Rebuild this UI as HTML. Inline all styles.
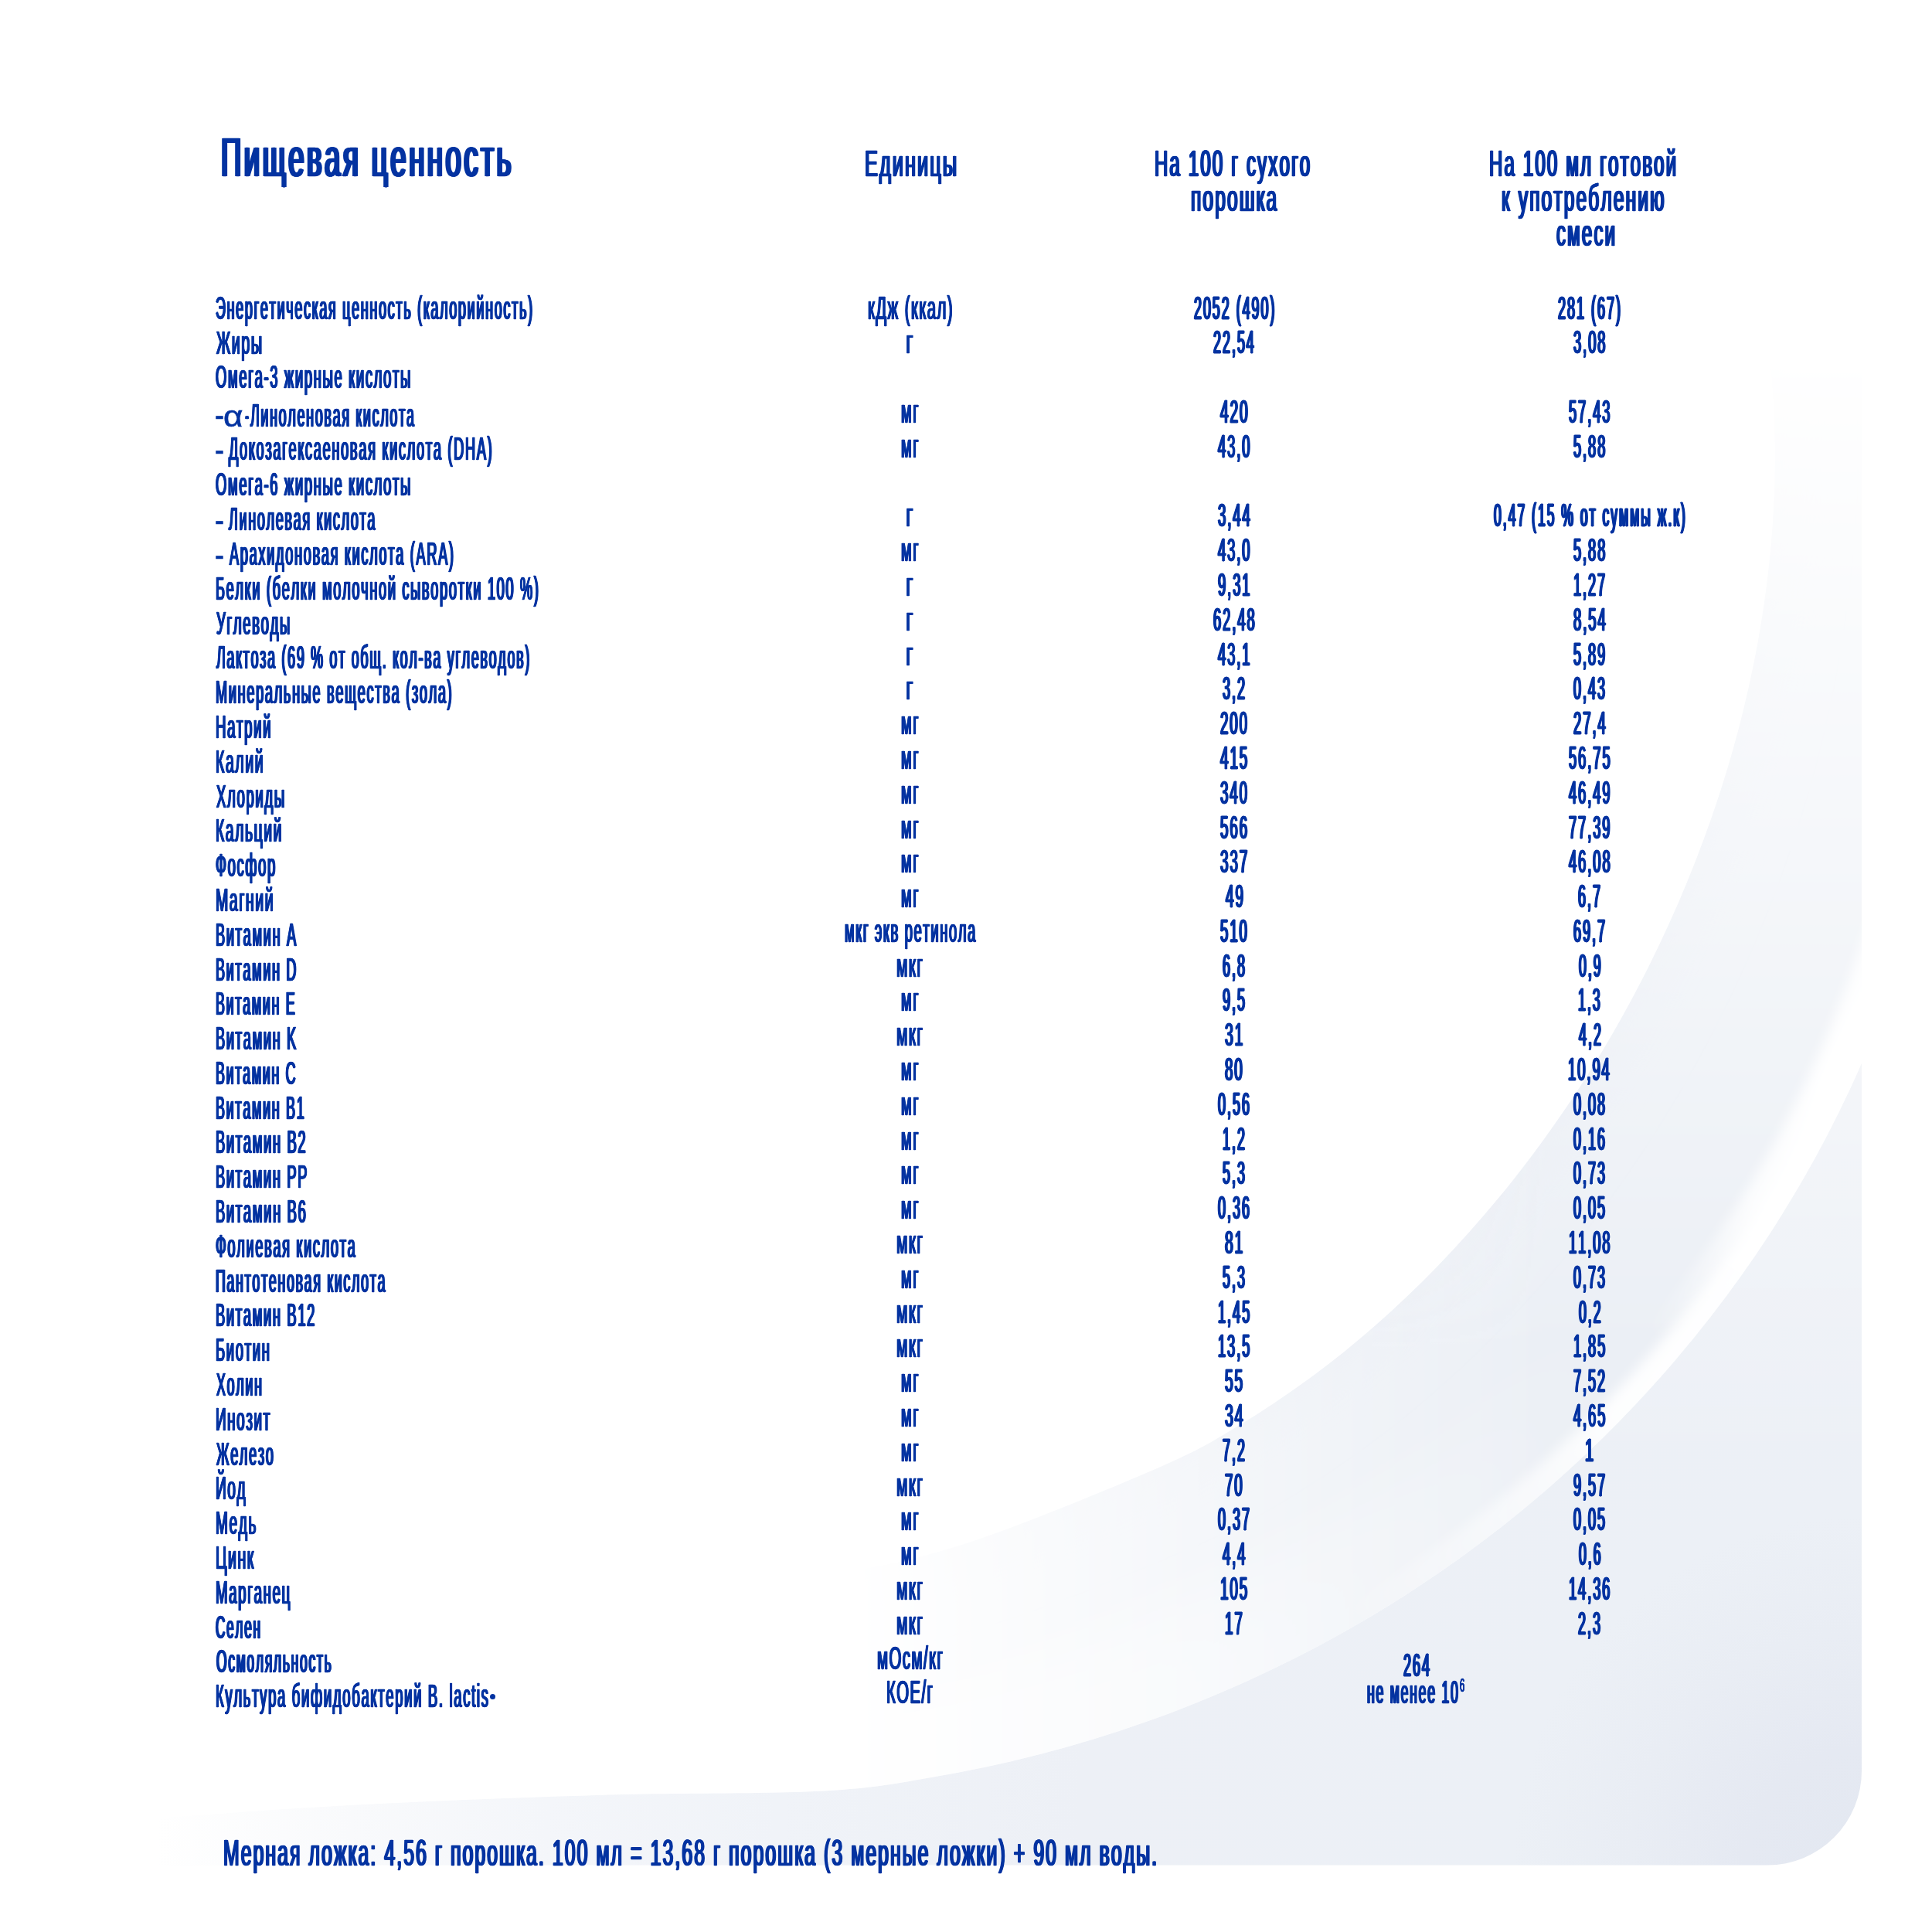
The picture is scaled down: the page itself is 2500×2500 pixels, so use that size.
<!DOCTYPE html>
<html lang="ru"><head><meta charset="utf-8"><title>Пищевая ценность</title>
<style>
html,body{margin:0;padding:0;background:#fff;}
body{width:2500px;height:2500px;position:relative;overflow:hidden;font-family:"Liberation Sans",sans-serif;}
#bg{position:absolute;left:0;top:0;width:2500px;height:2500px;}
.t{position:absolute;white-space:pre;font-weight:bold;color:#0433a1;font-kerning:none;font-variant-ligatures:none;letter-spacing:0;transform-origin:0 0;line-height:1;}
.r{font-weight:normal;}
.dot{position:absolute;border-radius:50%;background:#0433a1;}
</style></head><body>
<svg id="bg" width="2500" height="2500" viewBox="0 0 2500 2500">
<defs>
  <clipPath id="card"><path d="M0,0 H2409 V2291 A122,122 0 0 1 2287,2413.5 H0 Z"/></clipPath>
  <clipPath id="inA"><path d="M2536.7,739.2 C2536.0,762.2 2536.0,831.5 2532.6,877.4 C2529.1,923.3 2523.6,969.2 2516.1,1014.6 C2508.5,1060.0 2498.9,1105.2 2487.2,1149.7 C2475.6,1194.2 2461.9,1238.3 2446.3,1281.6 C2430.7,1324.9 2413.1,1367.6 2393.7,1409.4 C2374.2,1451.1 2352.8,1492.1 2329.6,1532.0 C2306.4,1571.9 2281.4,1610.9 2254.7,1648.6 C2228.0,1686.3 2199.4,1723.0 2169.4,1758.3 C2139.4,1793.6 2107.6,1827.7 2074.5,1860.2 C2041.3,1892.7 2006.6,1924.0 1970.6,1953.5 C1934.6,1983.1 1897.1,2011.3 1858.5,2037.6 C1820.0,2064.0 1780.1,2088.8 1739.2,2111.8 C1698.4,2134.8 1656.3,2156.1 1613.5,2175.6 C1570.7,2195.0 1526.8,2212.6 1482.3,2228.3 C1437.9,2244.0 1392.5,2257.9 1346.7,2269.8 C1300.9,2281.6 1254.4,2291.6 1207.7,2299.5 C1161.0,2307.5 1133.1,2313.7 1066.3,2317.4 C999.5,2321.2 884.7,2320.1 807.0,2322.0 C729.3,2323.9 667.8,2326.2 600.0,2329.0 C532.2,2331.8 466.7,2335.0 400.0,2339.0 C333.3,2343.0 266.7,2348.2 200.0,2353.0 C133.3,2357.8 33.3,2365.5 0.0,2368.0 L0,-60 L2536.7,-60 Z"/></clipPath>
  <radialGradient id="gOut" gradientUnits="userSpaceOnUse" cx="2409" cy="2413" r="2300">
    <stop offset="0" stop-color="#e3e8f1"/>
    <stop offset="0.065" stop-color="#e5e9f2"/>
    <stop offset="0.13" stop-color="#e9edf4"/>
    <stop offset="0.196" stop-color="#ecf0f6"/>
    <stop offset="0.44" stop-color="#edf0f6"/>
    <stop offset="0.61" stop-color="#f0f3f8"/>
    <stop offset="0.74" stop-color="#f4f6fa"/>
    <stop offset="0.85" stop-color="#f9fafc"/>
    <stop offset="0.96" stop-color="#ffffff"/>
  </radialGradient>
  <linearGradient id="mvg2" gradientUnits="userSpaceOnUse" x1="0" y1="500" x2="0" y2="1900">
    <stop offset="0" stop-color="#fff" stop-opacity="0"/><stop offset="1" stop-color="#fff" stop-opacity="1"/>
  </linearGradient>
  <mask id="mV2" maskUnits="userSpaceOnUse" x="0" y="0" width="2500" height="2500"><rect width="2500" height="2500" fill="url(#mvg2)"/></mask>
  <filter id="blurB" filterUnits="userSpaceOnUse" x="-500" y="-500" width="3500" height="3500"><feGaussianBlur stdDeviation="45"/></filter>
  <filter id="blurA" filterUnits="userSpaceOnUse" x="-500" y="-500" width="3500" height="3500"><feGaussianBlur stdDeviation="30"/></filter>
  <filter id="blurW" filterUnits="userSpaceOnUse" x="-500" y="-500" width="3500" height="3500"><feGaussianBlur stdDeviation="8"/></filter>
  <linearGradient id="mvg" gradientUnits="userSpaceOnUse" x1="0" y1="450" x2="0" y2="1750">
    <stop offset="0" stop-color="#fff" stop-opacity="0"/><stop offset="1" stop-color="#fff" stop-opacity="1"/>
  </linearGradient>
  <linearGradient id="mhg" gradientUnits="userSpaceOnUse" x1="1100" y1="0" x2="2000" y2="0">
    <stop offset="0" stop-color="#fff" stop-opacity="0"/><stop offset="1" stop-color="#fff" stop-opacity="1"/>
  </linearGradient>
  <mask id="mV" maskUnits="userSpaceOnUse" x="0" y="0" width="2500" height="2500"><rect width="2500" height="2500" fill="url(#mvg)"/></mask>
  <mask id="mH" maskUnits="userSpaceOnUse" x="0" y="0" width="2500" height="2500"><rect width="2500" height="2500" fill="url(#mhg)"/></mask>
  <radialGradient id="bandg" gradientUnits="userSpaceOnUse" cx="2409" cy="1381" r="1000">
    <stop offset="0" stop-color="#fff" stop-opacity="1"/><stop offset="0.55" stop-color="#fff" stop-opacity="0.9"/><stop offset="1" stop-color="#fff" stop-opacity="0"/>
  </radialGradient>
  <mask id="mBand" maskUnits="userSpaceOnUse" x="0" y="0" width="2500" height="2500"><rect width="2500" height="2500" fill="url(#bandg)"/></mask>
  <radialGradient id="bandg2" gradientUnits="userSpaceOnUse" cx="2409" cy="1381" r="450">
    <stop offset="0" stop-color="#fff" stop-opacity="1"/><stop offset="0.5" stop-color="#fff" stop-opacity="0.8"/><stop offset="1" stop-color="#fff" stop-opacity="0"/>
  </radialGradient>
  <mask id="mBand2" maskUnits="userSpaceOnUse" x="0" y="0" width="2500" height="2500"><rect width="2500" height="2500" fill="url(#bandg2)"/></mask>
  <linearGradient id="mwg" gradientUnits="userSpaceOnUse" x1="1500" y1="0" x2="2150" y2="0">
    <stop offset="0" stop-color="#fff" stop-opacity="1"/><stop offset="1" stop-color="#fff" stop-opacity="0"/>
  </linearGradient>
  <mask id="mWide" maskUnits="userSpaceOnUse" x="0" y="0" width="2500" height="2500"><rect width="2500" height="2500" fill="url(#mwg)"/></mask>
</defs>
<g clip-path="url(#card)">
  <rect width="2500" height="2500" fill="url(#gOut)" mask="url(#mV2)"/>
  <g clip-path="url(#inA)">
    <rect width="2500" height="2500" fill="#fff"/>
    <g mask="url(#mV)"><g mask="url(#mH)">
      <rect width="2500" height="2500" fill="#ebeff5"/>
      <path d="M2121.0,24.0 C2129.6,36.3 2156.7,71.8 2172.5,98.0 C2188.3,124.1 2202.8,151.8 2215.7,180.6 C2228.7,209.4 2240.2,239.7 2250.1,271.0 C2260.0,302.3 2268.4,334.8 2275.2,368.2 C2282.0,401.5 2287.3,436.0 2290.8,471.0 C2294.4,506.1 2296.4,542.1 2296.8,578.4 C2297.2,614.8 2295.9,651.9 2293.0,689.2 C2290.1,726.5 2285.6,764.4 2279.5,802.2 C2273.5,840.0 2265.7,878.2 2256.5,916.2 C2247.3,954.1 2236.5,992.2 2224.2,1029.8 C2211.9,1067.4 2198.1,1105.0 2182.9,1141.8 C2167.7,1178.7 2151.1,1215.4 2133.2,1251.1 C2115.2,1286.9 2095.9,1322.2 2075.5,1356.4 C2055.0,1390.7 2033.2,1424.3 2010.4,1456.6 C1987.7,1489.0 1963.7,1520.5 1938.8,1550.6 C1914.0,1580.7 1888.0,1609.7 1861.4,1637.2 C1834.8,1664.8 1807.1,1691.1 1779.0,1715.7 C1750.8,1740.4 1721.9,1763.6 1692.5,1785.1 C1663.2,1806.6 1633.2,1826.6 1602.9,1844.7 C1572.7,1862.8 1558.7,1872.4 1511.2,1893.8 C1463.7,1915.2 1371.7,1952.8 1318.0,1973.0 C1264.3,1993.2 1232.2,2003.7 1189.0,2015.0 C1145.8,2026.3 1102.2,2032.8 1059.0,2041.0 C1015.8,2049.2 989.8,2054.5 930.0,2064.0 C870.2,2073.5 788.3,2087.8 700.0,2098.0 C611.7,2108.2 516.7,2116.3 400.0,2125.0 C283.3,2133.7 66.7,2145.8 0.0,2150.0 L0,-60 L2121.0,-60 Z" fill="#e7ebf3" filter="url(#blurB)"/>
    </g></g>
    <g mask="url(#mWide)">
      <ellipse cx="899" cy="737" rx="1641" ry="1583" transform="rotate(13.6 899 737)" fill="none" stroke="#fff" stroke-width="260" stroke-opacity="0.4" filter="url(#blurB)"/>
    </g>
    <g mask="url(#mBand)">
      <ellipse cx="899" cy="737" rx="1641" ry="1583" transform="rotate(13.6 899 737)" fill="none" stroke="#fff" stroke-width="60" filter="url(#blurW)"/>
    </g>
    <g mask="url(#mBand2)">
      <ellipse cx="899" cy="737" rx="1641" ry="1583" transform="rotate(13.6 899 737)" fill="none" stroke="#fff" stroke-width="110" filter="url(#blurW)"/>
    </g>
  </g>
  <path d="M2121.0,24.0 C2129.6,36.3 2156.7,71.8 2172.5,98.0 C2188.3,124.1 2202.8,151.8 2215.7,180.6 C2228.7,209.4 2240.2,239.7 2250.1,271.0 C2260.0,302.3 2268.4,334.8 2275.2,368.2 C2282.0,401.5 2287.3,436.0 2290.8,471.0 C2294.4,506.1 2296.4,542.1 2296.8,578.4 C2297.2,614.8 2295.9,651.9 2293.0,689.2 C2290.1,726.5 2285.6,764.4 2279.5,802.2 C2273.5,840.0 2265.7,878.2 2256.5,916.2 C2247.3,954.1 2236.5,992.2 2224.2,1029.8 C2211.9,1067.4 2198.1,1105.0 2182.9,1141.8 C2167.7,1178.7 2151.1,1215.4 2133.2,1251.1 C2115.2,1286.9 2095.9,1322.2 2075.5,1356.4 C2055.0,1390.7 2033.2,1424.3 2010.4,1456.6 C1987.7,1489.0 1963.7,1520.5 1938.8,1550.6 C1914.0,1580.7 1888.0,1609.7 1861.4,1637.2 C1834.8,1664.8 1807.1,1691.1 1779.0,1715.7 C1750.8,1740.4 1721.9,1763.6 1692.5,1785.1 C1663.2,1806.6 1633.2,1826.6 1602.9,1844.7 C1572.7,1862.8 1558.7,1872.4 1511.2,1893.8 C1463.7,1915.2 1371.7,1952.8 1318.0,1973.0 C1264.3,1993.2 1232.2,2003.7 1189.0,2015.0 C1145.8,2026.3 1102.2,2032.8 1059.0,2041.0 C1015.8,2049.2 989.8,2054.5 930.0,2064.0 C870.2,2073.5 788.3,2087.8 700.0,2098.0 C611.7,2108.2 516.7,2116.3 400.0,2125.0 C283.3,2133.7 66.7,2145.8 0.0,2150.0 L0,-60 L2121.0,-60 Z" fill="#fff"/>
</g>
</svg>


<div class="t r" style="left:286.09px;top:169.00px;font-size:70.20px;transform:scaleX(0.5202);text-shadow:-3.39px 0 0 #0433a1,3.39px 0 0 #0433a1,-1.70px 0 0 #0433a1,1.70px 0 0 #0433a1;letter-spacing:6.79px;-webkit-text-stroke:0.70px #0433a1">Пищевая ценность</div>
<div class="t r" style="left:1118.59px;top:188.00px;font-size:47.40px;transform:scaleX(0.5346);text-shadow:-1.93px 0 0 #0433a1,1.93px 0 0 #0433a1,-0.96px 0 0 #0433a1,0.96px 0 0 #0433a1;letter-spacing:3.86px;-webkit-text-stroke:0.70px #0433a1">Единицы</div>
<div class="t r" style="left:1493.97px;top:188.00px;font-size:47.40px;transform:scaleX(0.5043);text-shadow:-2.20px 0 0 #0433a1,2.20px 0 0 #0433a1,-1.10px 0 0 #0433a1,1.10px 0 0 #0433a1;letter-spacing:4.40px;-webkit-text-stroke:0.70px #0433a1">На 100 г сухого</div>
<div class="t r" style="left:1541.45px;top:233.00px;font-size:47.40px;transform:scaleX(0.5177);text-shadow:-2.08px 0 0 #0433a1,2.08px 0 0 #0433a1,-1.04px 0 0 #0433a1,1.04px 0 0 #0433a1;letter-spacing:4.15px;-webkit-text-stroke:0.70px #0433a1">порошка</div>
<div class="t r" style="left:1927.27px;top:188.00px;font-size:47.40px;transform:scaleX(0.5053);text-shadow:-2.19px 0 0 #0433a1,2.19px 0 0 #0433a1,-1.09px 0 0 #0433a1,1.09px 0 0 #0433a1;letter-spacing:4.38px;-webkit-text-stroke:0.70px #0433a1">На 100 мл готовой</div>
<div class="t r" style="left:1943.11px;top:233.00px;font-size:47.40px;transform:scaleX(0.5165);text-shadow:-2.09px 0 0 #0433a1,2.09px 0 0 #0433a1,-1.04px 0 0 #0433a1,1.04px 0 0 #0433a1;letter-spacing:4.17px;-webkit-text-stroke:0.70px #0433a1">к употреблению</div>
<div class="t r" style="left:2014.46px;top:278.00px;font-size:47.40px;transform:scaleX(0.5067);text-shadow:-2.18px 0 0 #0433a1,2.18px 0 0 #0433a1,-1.09px 0 0 #0433a1,1.09px 0 0 #0433a1;letter-spacing:4.35px;-webkit-text-stroke:0.70px #0433a1">смеси</div>
<div class="t r" style="left:288.62px;top:2374.00px;font-size:47.40px;transform:scaleX(0.5210);text-shadow:-2.05px 0 0 #0433a1,2.05px 0 0 #0433a1,-1.02px 0 0 #0433a1,1.02px 0 0 #0433a1;letter-spacing:4.09px;-webkit-text-stroke:0.70px #0433a1">Мерная ложка: 4,56 г порошка. 100 мл = 13,68 г порошка (3 мерные ложки) + 90 мл воды.</div>
<div class="t r" style="left:279.40px;top:378.00px;font-size:42.00px;transform:scaleX(0.4265);text-shadow:-2.03px 0 0 #0433a1,2.03px 0 0 #0433a1,-1.01px 0 0 #0433a1,1.01px 0 0 #0433a1;letter-spacing:4.06px;-webkit-text-stroke:0.70px #0433a1">Энергетическая ценность (калорийность)</div>
<div class="t r" style="left:1122.98px;top:378.00px;font-size:42.00px;transform:scaleX(0.4837);text-shadow:-1.51px 0 0 #0433a1,1.51px 0 0 #0433a1,-0.76px 0 0 #0433a1,0.76px 0 0 #0433a1;letter-spacing:3.03px;-webkit-text-stroke:0.70px #0433a1">кДж (ккал)</div>
<div class="t r" style="left:1544.72px;top:378.00px;font-size:42.00px;transform:scaleX(0.4246);text-shadow:-2.37px 0 0 #0433a1,2.37px 0 0 #0433a1,-1.18px 0 0 #0433a1,1.18px 0 0 #0433a1;letter-spacing:4.74px;-webkit-text-stroke:1.00px #0433a1">2052 (490)</div>
<div class="t r" style="left:2016.35px;top:378.00px;font-size:42.00px;transform:scaleX(0.4295);text-shadow:-2.31px 0 0 #0433a1,2.31px 0 0 #0433a1,-1.16px 0 0 #0433a1,1.16px 0 0 #0433a1;letter-spacing:4.63px;-webkit-text-stroke:1.00px #0433a1">281 (67)</div>
<div class="t r" style="left:279.96px;top:423.00px;font-size:42.00px;transform:scaleX(0.4708);text-shadow:-1.62px 0 0 #0433a1,1.62px 0 0 #0433a1,-0.81px 0 0 #0433a1,0.81px 0 0 #0433a1;letter-spacing:3.24px;-webkit-text-stroke:0.70px #0433a1">Жиры</div>
<div class="t r" style="left:1172.41px;top:422.00px;font-size:42.00px;transform:scaleX(0.6338);text-shadow:-0.61px 0 0 #0433a1,0.61px 0 0 #0433a1,-0.30px 0 0 #0433a1,0.30px 0 0 #0433a1;letter-spacing:1.22px;-webkit-text-stroke:0.70px #0433a1">г</div>
<div class="t r" style="left:1570.22px;top:422.00px;font-size:42.00px;transform:scaleX(0.4260);text-shadow:-2.35px 0 0 #0433a1,2.35px 0 0 #0433a1,-1.18px 0 0 #0433a1,1.18px 0 0 #0433a1;letter-spacing:4.71px;-webkit-text-stroke:1.00px #0433a1">22,54</div>
<div class="t r" style="left:2036.14px;top:422.00px;font-size:42.00px;transform:scaleX(0.4347);text-shadow:-2.26px 0 0 #0433a1,2.26px 0 0 #0433a1,-1.13px 0 0 #0433a1,1.13px 0 0 #0433a1;letter-spacing:4.51px;-webkit-text-stroke:1.00px #0433a1">3,08</div>
<div class="t r" style="left:279.42px;top:467.00px;font-size:42.00px;transform:scaleX(0.4375);text-shadow:-1.92px 0 0 #0433a1,1.92px 0 0 #0433a1,-0.96px 0 0 #0433a1,0.96px 0 0 #0433a1;letter-spacing:3.84px;-webkit-text-stroke:0.70px #0433a1">Омега-3 жирные кислоты</div>
<div class="t r" style="left:278.21px;top:517.00px;font-size:42.00px;transform:scaleX(0.8524);-webkit-text-stroke:0.70px #0433a1">-</div>
<div class="t r" style="left:288.85px;top:519.00px;font-size:39.18px;transform:scaleX(1.1219);-webkit-text-stroke:0.6px #0433a1">α</div>
<div class="t r" style="left:317.54px;top:517.00px;font-size:42.00px;transform:scaleX(0.2369);text-shadow:-5.50px 0 0 #0433a1,5.50px 0 0 #0433a1,-2.75px 0 0 #0433a1,2.75px 0 0 #0433a1;letter-spacing:10.99px;-webkit-text-stroke:0.70px #0433a1">-</div>
<div class="t r" style="left:323.66px;top:517.00px;font-size:42.00px;transform:scaleX(0.4247);text-shadow:-2.05px 0 0 #0433a1,2.05px 0 0 #0433a1,-1.02px 0 0 #0433a1,1.02px 0 0 #0433a1;letter-spacing:4.09px;-webkit-text-stroke:0.70px #0433a1">Линоленовая кислота</div>
<div class="t r" style="left:1166.20px;top:512.00px;font-size:42.00px;transform:scaleX(0.4728);text-shadow:-1.60px 0 0 #0433a1,1.60px 0 0 #0433a1,-0.80px 0 0 #0433a1,0.80px 0 0 #0433a1;letter-spacing:3.21px;-webkit-text-stroke:0.70px #0433a1">мг</div>
<div class="t r" style="left:1579.12px;top:512.00px;font-size:42.00px;transform:scaleX(0.4561);text-shadow:-2.04px 0 0 #0433a1,2.04px 0 0 #0433a1,-1.02px 0 0 #0433a1,1.02px 0 0 #0433a1;letter-spacing:4.07px;-webkit-text-stroke:1.00px #0433a1">420</div>
<div class="t r" style="left:2030.12px;top:512.00px;font-size:42.00px;transform:scaleX(0.4334);text-shadow:-2.27px 0 0 #0433a1,2.27px 0 0 #0433a1,-1.14px 0 0 #0433a1,1.14px 0 0 #0433a1;letter-spacing:4.54px;-webkit-text-stroke:1.00px #0433a1">57,43</div>
<div class="t r" style="left:278.21px;top:562.00px;font-size:42.00px;transform:scaleX(0.8524);-webkit-text-stroke:0.70px #0433a1">-</div>
<div class="t r" style="left:296.47px;top:560.00px;font-size:42.00px;transform:scaleX(0.4329);text-shadow:-1.96px 0 0 #0433a1,1.96px 0 0 #0433a1,-0.98px 0 0 #0433a1,0.98px 0 0 #0433a1;letter-spacing:3.93px;-webkit-text-stroke:0.70px #0433a1">Докозагексаеновая кислота (DHA)</div>
<div class="t r" style="left:1166.20px;top:557.00px;font-size:42.00px;transform:scaleX(0.4728);text-shadow:-1.60px 0 0 #0433a1,1.60px 0 0 #0433a1,-0.80px 0 0 #0433a1,0.80px 0 0 #0433a1;letter-spacing:3.21px;-webkit-text-stroke:0.70px #0433a1">мг</div>
<div class="t r" style="left:1576.23px;top:557.00px;font-size:42.00px;transform:scaleX(0.4349);text-shadow:-2.26px 0 0 #0433a1,2.26px 0 0 #0433a1,-1.13px 0 0 #0433a1,1.13px 0 0 #0433a1;letter-spacing:4.51px;-webkit-text-stroke:1.00px #0433a1">43,0</div>
<div class="t r" style="left:2036.20px;top:557.00px;font-size:42.00px;transform:scaleX(0.4324);text-shadow:-2.28px 0 0 #0433a1,2.28px 0 0 #0433a1,-1.14px 0 0 #0433a1,1.14px 0 0 #0433a1;letter-spacing:4.56px;-webkit-text-stroke:1.00px #0433a1">5,88</div>
<div class="t r" style="left:279.42px;top:606.00px;font-size:42.00px;transform:scaleX(0.4375);text-shadow:-1.92px 0 0 #0433a1,1.92px 0 0 #0433a1,-0.96px 0 0 #0433a1,0.96px 0 0 #0433a1;letter-spacing:3.84px;-webkit-text-stroke:0.70px #0433a1">Омега-6 жирные кислоты</div>
<div class="t r" style="left:278.21px;top:653.00px;font-size:42.00px;transform:scaleX(0.8524);-webkit-text-stroke:0.70px #0433a1">-</div>
<div class="t r" style="left:296.46px;top:651.00px;font-size:42.00px;transform:scaleX(0.4271);text-shadow:-2.02px 0 0 #0433a1,2.02px 0 0 #0433a1,-1.01px 0 0 #0433a1,1.01px 0 0 #0433a1;letter-spacing:4.04px;-webkit-text-stroke:0.70px #0433a1">Линолевая кислота</div>
<div class="t r" style="left:1172.41px;top:646.00px;font-size:42.00px;transform:scaleX(0.6338);text-shadow:-0.61px 0 0 #0433a1,0.61px 0 0 #0433a1,-0.30px 0 0 #0433a1,0.30px 0 0 #0433a1;letter-spacing:1.22px;-webkit-text-stroke:0.70px #0433a1">г</div>
<div class="t r" style="left:1575.84px;top:646.00px;font-size:42.00px;transform:scaleX(0.4397);text-shadow:-2.20px 0 0 #0433a1,2.20px 0 0 #0433a1,-1.10px 0 0 #0433a1,1.10px 0 0 #0433a1;letter-spacing:4.41px;-webkit-text-stroke:1.00px #0433a1">3,44</div>
<div class="t r" style="left:1933.05px;top:646.00px;font-size:42.00px;transform:scaleX(0.4154);text-shadow:-2.48px 0 0 #0433a1,2.48px 0 0 #0433a1,-1.24px 0 0 #0433a1,1.24px 0 0 #0433a1;letter-spacing:4.95px;-webkit-text-stroke:1.00px #0433a1">0,47 (15 % от суммы ж.к)</div>
<div class="t r" style="left:278.21px;top:698.00px;font-size:42.00px;transform:scaleX(0.8524);-webkit-text-stroke:0.70px #0433a1">-</div>
<div class="t r" style="left:296.57px;top:696.00px;font-size:42.00px;transform:scaleX(0.4314);text-shadow:-1.98px 0 0 #0433a1,1.98px 0 0 #0433a1,-0.99px 0 0 #0433a1,0.99px 0 0 #0433a1;letter-spacing:3.96px;-webkit-text-stroke:0.70px #0433a1">Арахидоновая кислота (ARA)</div>
<div class="t r" style="left:1166.20px;top:691.00px;font-size:42.00px;transform:scaleX(0.4728);text-shadow:-1.60px 0 0 #0433a1,1.60px 0 0 #0433a1,-0.80px 0 0 #0433a1,0.80px 0 0 #0433a1;letter-spacing:3.21px;-webkit-text-stroke:0.70px #0433a1">мг</div>
<div class="t r" style="left:1576.23px;top:691.00px;font-size:42.00px;transform:scaleX(0.4349);text-shadow:-2.26px 0 0 #0433a1,2.26px 0 0 #0433a1,-1.13px 0 0 #0433a1,1.13px 0 0 #0433a1;letter-spacing:4.51px;-webkit-text-stroke:1.00px #0433a1">43,0</div>
<div class="t r" style="left:2036.20px;top:691.00px;font-size:42.00px;transform:scaleX(0.4324);text-shadow:-2.28px 0 0 #0433a1,2.28px 0 0 #0433a1,-1.14px 0 0 #0433a1,1.14px 0 0 #0433a1;letter-spacing:4.56px;-webkit-text-stroke:1.00px #0433a1">5,88</div>
<div class="t r" style="left:278.82px;top:741.00px;font-size:42.00px;transform:scaleX(0.4319);text-shadow:-1.97px 0 0 #0433a1,1.97px 0 0 #0433a1,-0.99px 0 0 #0433a1,0.99px 0 0 #0433a1;letter-spacing:3.95px;-webkit-text-stroke:0.70px #0433a1">Белки (белки молочной сыворотки 100 %)</div>
<div class="t r" style="left:1172.41px;top:736.00px;font-size:42.00px;transform:scaleX(0.6338);text-shadow:-0.61px 0 0 #0433a1,0.61px 0 0 #0433a1,-0.30px 0 0 #0433a1,0.30px 0 0 #0433a1;letter-spacing:1.22px;-webkit-text-stroke:0.70px #0433a1">г</div>
<div class="t r" style="left:1576.07px;top:736.00px;font-size:42.00px;transform:scaleX(0.4358);text-shadow:-2.25px 0 0 #0433a1,2.25px 0 0 #0433a1,-1.12px 0 0 #0433a1,1.12px 0 0 #0433a1;letter-spacing:4.49px;-webkit-text-stroke:1.00px #0433a1">9,31</div>
<div class="t r" style="left:2036.06px;top:736.00px;font-size:42.00px;transform:scaleX(0.4286);text-shadow:-2.32px 0 0 #0433a1,2.32px 0 0 #0433a1,-1.16px 0 0 #0433a1,1.16px 0 0 #0433a1;letter-spacing:4.65px;-webkit-text-stroke:1.00px #0433a1">1,27</div>
<div class="t r" style="left:279.79px;top:786.00px;font-size:42.00px;transform:scaleX(0.4395);text-shadow:-1.90px 0 0 #0433a1,1.90px 0 0 #0433a1,-0.95px 0 0 #0433a1,0.95px 0 0 #0433a1;letter-spacing:3.80px;-webkit-text-stroke:0.70px #0433a1">Углеводы</div>
<div class="t r" style="left:1172.41px;top:781.00px;font-size:42.00px;transform:scaleX(0.6338);text-shadow:-0.61px 0 0 #0433a1,0.61px 0 0 #0433a1,-0.30px 0 0 #0433a1,0.30px 0 0 #0433a1;letter-spacing:1.22px;-webkit-text-stroke:0.70px #0433a1">г</div>
<div class="t r" style="left:1569.92px;top:781.00px;font-size:42.00px;transform:scaleX(0.4357);text-shadow:-2.25px 0 0 #0433a1,2.25px 0 0 #0433a1,-1.12px 0 0 #0433a1,1.12px 0 0 #0433a1;letter-spacing:4.49px;-webkit-text-stroke:1.00px #0433a1">62,48</div>
<div class="t r" style="left:2035.84px;top:781.00px;font-size:42.00px;transform:scaleX(0.4381);text-shadow:-2.22px 0 0 #0433a1,2.22px 0 0 #0433a1,-1.11px 0 0 #0433a1,1.11px 0 0 #0433a1;letter-spacing:4.44px;-webkit-text-stroke:1.00px #0433a1">8,54</div>
<div class="t r" style="left:280.16px;top:830.00px;font-size:42.00px;transform:scaleX(0.4248);text-shadow:-2.04px 0 0 #0433a1,2.04px 0 0 #0433a1,-1.02px 0 0 #0433a1,1.02px 0 0 #0433a1;letter-spacing:4.09px;-webkit-text-stroke:0.70px #0433a1">Лактоза (69 % от общ. кол-ва углеводов)</div>
<div class="t r" style="left:1172.41px;top:826.00px;font-size:42.00px;transform:scaleX(0.6338);text-shadow:-0.61px 0 0 #0433a1,0.61px 0 0 #0433a1,-0.30px 0 0 #0433a1,0.30px 0 0 #0433a1;letter-spacing:1.22px;-webkit-text-stroke:0.70px #0433a1">г</div>
<div class="t r" style="left:1576.29px;top:826.00px;font-size:42.00px;transform:scaleX(0.4357);text-shadow:-2.25px 0 0 #0433a1,2.25px 0 0 #0433a1,-1.12px 0 0 #0433a1,1.12px 0 0 #0433a1;letter-spacing:4.49px;-webkit-text-stroke:1.00px #0433a1">43,1</div>
<div class="t r" style="left:2036.27px;top:826.00px;font-size:42.00px;transform:scaleX(0.4313);text-shadow:-2.30px 0 0 #0433a1,2.30px 0 0 #0433a1,-1.15px 0 0 #0433a1,1.15px 0 0 #0433a1;letter-spacing:4.59px;-webkit-text-stroke:1.00px #0433a1">5,89</div>
<div class="t r" style="left:278.82px;top:875.00px;font-size:42.00px;transform:scaleX(0.4311);text-shadow:-1.98px 0 0 #0433a1,1.98px 0 0 #0433a1,-0.99px 0 0 #0433a1,0.99px 0 0 #0433a1;letter-spacing:3.96px;-webkit-text-stroke:0.70px #0433a1">Минеральные вещества (зола)</div>
<div class="t r" style="left:1172.41px;top:870.00px;font-size:42.00px;transform:scaleX(0.6338);text-shadow:-0.61px 0 0 #0433a1,0.61px 0 0 #0433a1,-0.30px 0 0 #0433a1,0.30px 0 0 #0433a1;letter-spacing:1.22px;-webkit-text-stroke:0.70px #0433a1">г</div>
<div class="t r" style="left:1582.39px;top:870.00px;font-size:42.00px;transform:scaleX(0.4292);text-shadow:-2.32px 0 0 #0433a1,2.32px 0 0 #0433a1,-1.16px 0 0 #0433a1,1.16px 0 0 #0433a1;letter-spacing:4.64px;-webkit-text-stroke:1.00px #0433a1">3,2</div>
<div class="t r" style="left:2036.39px;top:870.00px;font-size:42.00px;transform:scaleX(0.4270);text-shadow:-2.34px 0 0 #0433a1,2.34px 0 0 #0433a1,-1.17px 0 0 #0433a1,1.17px 0 0 #0433a1;letter-spacing:4.68px;-webkit-text-stroke:1.00px #0433a1">0,43</div>
<div class="t r" style="left:278.76px;top:920.00px;font-size:42.00px;transform:scaleX(0.4416);text-shadow:-1.88px 0 0 #0433a1,1.88px 0 0 #0433a1,-0.94px 0 0 #0433a1,0.94px 0 0 #0433a1;letter-spacing:3.76px;-webkit-text-stroke:0.70px #0433a1">Натрий</div>
<div class="t r" style="left:1166.20px;top:915.00px;font-size:42.00px;transform:scaleX(0.4728);text-shadow:-1.60px 0 0 #0433a1,1.60px 0 0 #0433a1,-0.80px 0 0 #0433a1,0.80px 0 0 #0433a1;letter-spacing:3.21px;-webkit-text-stroke:0.70px #0433a1">мг</div>
<div class="t r" style="left:1579.18px;top:915.00px;font-size:42.00px;transform:scaleX(0.4455);text-shadow:-2.14px 0 0 #0433a1,2.14px 0 0 #0433a1,-1.07px 0 0 #0433a1,1.07px 0 0 #0433a1;letter-spacing:4.29px;-webkit-text-stroke:1.00px #0433a1">200</div>
<div class="t r" style="left:2035.75px;top:915.00px;font-size:42.00px;transform:scaleX(0.4392);text-shadow:-2.21px 0 0 #0433a1,2.21px 0 0 #0433a1,-1.10px 0 0 #0433a1,1.10px 0 0 #0433a1;letter-spacing:4.42px;-webkit-text-stroke:1.00px #0433a1">27,4</div>
<div class="t r" style="left:278.64px;top:965.00px;font-size:42.00px;transform:scaleX(0.4652);text-shadow:-1.67px 0 0 #0433a1,1.67px 0 0 #0433a1,-0.83px 0 0 #0433a1,0.83px 0 0 #0433a1;letter-spacing:3.33px;-webkit-text-stroke:0.70px #0433a1">Калий</div>
<div class="t r" style="left:1166.20px;top:960.00px;font-size:42.00px;transform:scaleX(0.4728);text-shadow:-1.60px 0 0 #0433a1,1.60px 0 0 #0433a1,-0.80px 0 0 #0433a1,0.80px 0 0 #0433a1;letter-spacing:3.21px;-webkit-text-stroke:0.70px #0433a1">мг</div>
<div class="t r" style="left:1579.31px;top:960.00px;font-size:42.00px;transform:scaleX(0.4504);text-shadow:-2.09px 0 0 #0433a1,2.09px 0 0 #0433a1,-1.05px 0 0 #0433a1,1.05px 0 0 #0433a1;letter-spacing:4.19px;-webkit-text-stroke:1.00px #0433a1">415</div>
<div class="t r" style="left:2030.02px;top:960.00px;font-size:42.00px;transform:scaleX(0.4353);text-shadow:-2.25px 0 0 #0433a1,2.25px 0 0 #0433a1,-1.13px 0 0 #0433a1,1.13px 0 0 #0433a1;letter-spacing:4.50px;-webkit-text-stroke:1.00px #0433a1">56,75</div>
<div class="t r" style="left:279.87px;top:1010.00px;font-size:42.00px;transform:scaleX(0.4412);text-shadow:-1.88px 0 0 #0433a1,1.88px 0 0 #0433a1,-0.94px 0 0 #0433a1,0.94px 0 0 #0433a1;letter-spacing:3.77px;-webkit-text-stroke:0.70px #0433a1">Хлориды</div>
<div class="t r" style="left:1166.20px;top:1005.00px;font-size:42.00px;transform:scaleX(0.4728);text-shadow:-1.60px 0 0 #0433a1,1.60px 0 0 #0433a1,-0.80px 0 0 #0433a1,0.80px 0 0 #0433a1;letter-spacing:3.21px;-webkit-text-stroke:0.70px #0433a1">мг</div>
<div class="t r" style="left:1579.27px;top:1005.00px;font-size:42.00px;transform:scaleX(0.4461);text-shadow:-2.14px 0 0 #0433a1,2.14px 0 0 #0433a1,-1.07px 0 0 #0433a1,1.07px 0 0 #0433a1;letter-spacing:4.27px;-webkit-text-stroke:1.00px #0433a1">340</div>
<div class="t r" style="left:2030.27px;top:1005.00px;font-size:42.00px;transform:scaleX(0.4344);text-shadow:-2.26px 0 0 #0433a1,2.26px 0 0 #0433a1,-1.13px 0 0 #0433a1,1.13px 0 0 #0433a1;letter-spacing:4.52px;-webkit-text-stroke:1.00px #0433a1">46,49</div>
<div class="t r" style="left:278.66px;top:1054.00px;font-size:42.00px;transform:scaleX(0.4599);text-shadow:-1.71px 0 0 #0433a1,1.71px 0 0 #0433a1,-0.86px 0 0 #0433a1,0.86px 0 0 #0433a1;letter-spacing:3.42px;-webkit-text-stroke:0.70px #0433a1">Кальций</div>
<div class="t r" style="left:1166.20px;top:1050.00px;font-size:42.00px;transform:scaleX(0.4728);text-shadow:-1.60px 0 0 #0433a1,1.60px 0 0 #0433a1,-0.80px 0 0 #0433a1,0.80px 0 0 #0433a1;letter-spacing:3.21px;-webkit-text-stroke:0.70px #0433a1">мг</div>
<div class="t r" style="left:1579.26px;top:1050.00px;font-size:42.00px;transform:scaleX(0.4473);text-shadow:-2.12px 0 0 #0433a1,2.12px 0 0 #0433a1,-1.06px 0 0 #0433a1,1.06px 0 0 #0433a1;letter-spacing:4.25px;-webkit-text-stroke:1.00px #0433a1">566</div>
<div class="t r" style="left:2030.06px;top:1050.00px;font-size:42.00px;transform:scaleX(0.4331);text-shadow:-2.27px 0 0 #0433a1,2.27px 0 0 #0433a1,-1.14px 0 0 #0433a1,1.14px 0 0 #0433a1;letter-spacing:4.55px;-webkit-text-stroke:1.00px #0433a1">77,39</div>
<div class="t r" style="left:279.24px;top:1099.00px;font-size:42.00px;transform:scaleX(0.4369);text-shadow:-1.92px 0 0 #0433a1,1.92px 0 0 #0433a1,-0.96px 0 0 #0433a1,0.96px 0 0 #0433a1;letter-spacing:3.85px;-webkit-text-stroke:0.70px #0433a1">Фосфор</div>
<div class="t r" style="left:1166.20px;top:1094.00px;font-size:42.00px;transform:scaleX(0.4728);text-shadow:-1.60px 0 0 #0433a1,1.60px 0 0 #0433a1,-0.80px 0 0 #0433a1,0.80px 0 0 #0433a1;letter-spacing:3.21px;-webkit-text-stroke:0.70px #0433a1">мг</div>
<div class="t r" style="left:1579.30px;top:1094.00px;font-size:42.00px;transform:scaleX(0.4488);text-shadow:-2.11px 0 0 #0433a1,2.11px 0 0 #0433a1,-1.05px 0 0 #0433a1,1.05px 0 0 #0433a1;letter-spacing:4.22px;-webkit-text-stroke:1.00px #0433a1">337</div>
<div class="t r" style="left:2030.19px;top:1094.00px;font-size:42.00px;transform:scaleX(0.4353);text-shadow:-2.25px 0 0 #0433a1,2.25px 0 0 #0433a1,-1.13px 0 0 #0433a1,1.13px 0 0 #0433a1;letter-spacing:4.50px;-webkit-text-stroke:1.00px #0433a1">46,08</div>
<div class="t r" style="left:278.64px;top:1144.00px;font-size:42.00px;transform:scaleX(0.4647);text-shadow:-1.67px 0 0 #0433a1,1.67px 0 0 #0433a1,-0.84px 0 0 #0433a1,0.84px 0 0 #0433a1;letter-spacing:3.34px;-webkit-text-stroke:0.70px #0433a1">Магний</div>
<div class="t r" style="left:1166.20px;top:1139.00px;font-size:42.00px;transform:scaleX(0.4728);text-shadow:-1.60px 0 0 #0433a1,1.60px 0 0 #0433a1,-0.80px 0 0 #0433a1,0.80px 0 0 #0433a1;letter-spacing:3.21px;-webkit-text-stroke:0.70px #0433a1">мг</div>
<div class="t r" style="left:1585.54px;top:1139.00px;font-size:42.00px;transform:scaleX(0.4516);text-shadow:-2.08px 0 0 #0433a1,2.08px 0 0 #0433a1,-1.04px 0 0 #0433a1,1.04px 0 0 #0433a1;letter-spacing:4.16px;-webkit-text-stroke:1.00px #0433a1">49</div>
<div class="t r" style="left:2042.37px;top:1139.00px;font-size:42.00px;transform:scaleX(0.4253);text-shadow:-2.36px 0 0 #0433a1,2.36px 0 0 #0433a1,-1.18px 0 0 #0433a1,1.18px 0 0 #0433a1;letter-spacing:4.72px;-webkit-text-stroke:1.00px #0433a1">6,7</div>
<div class="t r" style="left:278.81px;top:1189.00px;font-size:42.00px;transform:scaleX(0.4325);text-shadow:-1.97px 0 0 #0433a1,1.97px 0 0 #0433a1,-0.98px 0 0 #0433a1,0.98px 0 0 #0433a1;letter-spacing:3.94px;-webkit-text-stroke:0.70px #0433a1">Витамин A</div>
<div class="t r" style="left:1092.54px;top:1184.00px;font-size:42.00px;transform:scaleX(0.4333);text-shadow:-1.96px 0 0 #0433a1,1.96px 0 0 #0433a1,-0.98px 0 0 #0433a1,0.98px 0 0 #0433a1;letter-spacing:3.92px;-webkit-text-stroke:0.70px #0433a1">мкг экв ретинола</div>
<div class="t r" style="left:1579.33px;top:1184.00px;font-size:42.00px;transform:scaleX(0.4435);text-shadow:-2.16px 0 0 #0433a1,2.16px 0 0 #0433a1,-1.08px 0 0 #0433a1,1.08px 0 0 #0433a1;letter-spacing:4.33px;-webkit-text-stroke:1.00px #0433a1">510</div>
<div class="t r" style="left:2036.22px;top:1184.00px;font-size:42.00px;transform:scaleX(0.4307);text-shadow:-2.30px 0 0 #0433a1,2.30px 0 0 #0433a1,-1.15px 0 0 #0433a1,1.15px 0 0 #0433a1;letter-spacing:4.60px;-webkit-text-stroke:1.00px #0433a1">69,7</div>
<div class="t r" style="left:278.83px;top:1234.00px;font-size:42.00px;transform:scaleX(0.4284);text-shadow:-2.01px 0 0 #0433a1,2.01px 0 0 #0433a1,-1.00px 0 0 #0433a1,1.00px 0 0 #0433a1;letter-spacing:4.02px;-webkit-text-stroke:0.70px #0433a1">Витамин D</div>
<div class="t r" style="left:1160.37px;top:1229.00px;font-size:42.00px;transform:scaleX(0.4993);text-shadow:-1.40px 0 0 #0433a1,1.40px 0 0 #0433a1,-0.70px 0 0 #0433a1,0.70px 0 0 #0433a1;letter-spacing:2.79px;-webkit-text-stroke:0.70px #0433a1">мкг</div>
<div class="t r" style="left:1582.21px;top:1229.00px;font-size:42.00px;transform:scaleX(0.4294);text-shadow:-2.32px 0 0 #0433a1,2.32px 0 0 #0433a1,-1.16px 0 0 #0433a1,1.16px 0 0 #0433a1;letter-spacing:4.63px;-webkit-text-stroke:1.00px #0433a1">6,8</div>
<div class="t r" style="left:2042.55px;top:1229.00px;font-size:42.00px;transform:scaleX(0.4210);text-shadow:-2.41px 0 0 #0433a1,2.41px 0 0 #0433a1,-1.21px 0 0 #0433a1,1.21px 0 0 #0433a1;letter-spacing:4.82px;-webkit-text-stroke:1.00px #0433a1">0,9</div>
<div class="t r" style="left:278.86px;top:1278.00px;font-size:42.00px;transform:scaleX(0.4241);text-shadow:-2.05px 0 0 #0433a1,2.05px 0 0 #0433a1,-1.03px 0 0 #0433a1,1.03px 0 0 #0433a1;letter-spacing:4.10px;-webkit-text-stroke:0.70px #0433a1">Витамин E</div>
<div class="t r" style="left:1166.20px;top:1273.00px;font-size:42.00px;transform:scaleX(0.4728);text-shadow:-1.60px 0 0 #0433a1,1.60px 0 0 #0433a1,-0.80px 0 0 #0433a1,0.80px 0 0 #0433a1;letter-spacing:3.21px;-webkit-text-stroke:0.70px #0433a1">мг</div>
<div class="t r" style="left:1582.23px;top:1273.00px;font-size:42.00px;transform:scaleX(0.4297);text-shadow:-2.31px 0 0 #0433a1,2.31px 0 0 #0433a1,-1.16px 0 0 #0433a1,1.16px 0 0 #0433a1;letter-spacing:4.63px;-webkit-text-stroke:1.00px #0433a1">9,5</div>
<div class="t r" style="left:2042.13px;top:1273.00px;font-size:42.00px;transform:scaleX(0.4235);text-shadow:-2.38px 0 0 #0433a1,2.38px 0 0 #0433a1,-1.19px 0 0 #0433a1,1.19px 0 0 #0433a1;letter-spacing:4.76px;-webkit-text-stroke:1.00px #0433a1">1,3</div>
<div class="t r" style="left:278.81px;top:1323.00px;font-size:42.00px;transform:scaleX(0.4335);text-shadow:-1.96px 0 0 #0433a1,1.96px 0 0 #0433a1,-0.98px 0 0 #0433a1,0.98px 0 0 #0433a1;letter-spacing:3.92px;-webkit-text-stroke:0.70px #0433a1">Витамин K</div>
<div class="t r" style="left:1160.37px;top:1318.00px;font-size:42.00px;transform:scaleX(0.4993);text-shadow:-1.40px 0 0 #0433a1,1.40px 0 0 #0433a1,-0.70px 0 0 #0433a1,0.70px 0 0 #0433a1;letter-spacing:2.79px;-webkit-text-stroke:0.70px #0433a1">мкг</div>
<div class="t r" style="left:1585.20px;top:1318.00px;font-size:42.00px;transform:scaleX(0.4617);text-shadow:-1.98px 0 0 #0433a1,1.98px 0 0 #0433a1,-0.99px 0 0 #0433a1,0.99px 0 0 #0433a1;letter-spacing:3.96px;-webkit-text-stroke:1.00px #0433a1">31</div>
<div class="t r" style="left:2042.58px;top:1318.00px;font-size:42.00px;transform:scaleX(0.4268);text-shadow:-2.35px 0 0 #0433a1,2.35px 0 0 #0433a1,-1.17px 0 0 #0433a1,1.17px 0 0 #0433a1;letter-spacing:4.69px;-webkit-text-stroke:1.00px #0433a1">4,2</div>
<div class="t r" style="left:278.86px;top:1368.00px;font-size:42.00px;transform:scaleX(0.4237);text-shadow:-2.06px 0 0 #0433a1,2.06px 0 0 #0433a1,-1.03px 0 0 #0433a1,1.03px 0 0 #0433a1;letter-spacing:4.11px;-webkit-text-stroke:0.70px #0433a1">Витамин C</div>
<div class="t r" style="left:1166.20px;top:1363.00px;font-size:42.00px;transform:scaleX(0.4728);text-shadow:-1.60px 0 0 #0433a1,1.60px 0 0 #0433a1,-0.80px 0 0 #0433a1,0.80px 0 0 #0433a1;letter-spacing:3.21px;-webkit-text-stroke:0.70px #0433a1">мг</div>
<div class="t r" style="left:1585.40px;top:1363.00px;font-size:42.00px;transform:scaleX(0.4452);text-shadow:-2.15px 0 0 #0433a1,2.15px 0 0 #0433a1,-1.07px 0 0 #0433a1,1.07px 0 0 #0433a1;letter-spacing:4.29px;-webkit-text-stroke:1.00px #0433a1">80</div>
<div class="t r" style="left:2029.45px;top:1363.00px;font-size:42.00px;transform:scaleX(0.4381);text-shadow:-2.22px 0 0 #0433a1,2.22px 0 0 #0433a1,-1.11px 0 0 #0433a1,1.11px 0 0 #0433a1;letter-spacing:4.44px;-webkit-text-stroke:1.00px #0433a1">10,94</div>
<div class="t r" style="left:278.85px;top:1413.00px;font-size:42.00px;transform:scaleX(0.4261);text-shadow:-2.03px 0 0 #0433a1,2.03px 0 0 #0433a1,-1.02px 0 0 #0433a1,1.02px 0 0 #0433a1;letter-spacing:4.06px;-webkit-text-stroke:0.70px #0433a1">Витамин B1</div>
<div class="t r" style="left:1166.20px;top:1408.00px;font-size:42.00px;transform:scaleX(0.4728);text-shadow:-1.60px 0 0 #0433a1,1.60px 0 0 #0433a1,-0.80px 0 0 #0433a1,0.80px 0 0 #0433a1;letter-spacing:3.21px;-webkit-text-stroke:0.70px #0433a1">мг</div>
<div class="t r" style="left:1576.39px;top:1408.00px;font-size:42.00px;transform:scaleX(0.4270);text-shadow:-2.34px 0 0 #0433a1,2.34px 0 0 #0433a1,-1.17px 0 0 #0433a1,1.17px 0 0 #0433a1;letter-spacing:4.68px;-webkit-text-stroke:1.00px #0433a1">0,56</div>
<div class="t r" style="left:2036.32px;top:1408.00px;font-size:42.00px;transform:scaleX(0.4289);text-shadow:-2.32px 0 0 #0433a1,2.32px 0 0 #0433a1,-1.16px 0 0 #0433a1,1.16px 0 0 #0433a1;letter-spacing:4.64px;-webkit-text-stroke:1.00px #0433a1">0,08</div>
<div class="t r" style="left:278.79px;top:1457.00px;font-size:42.00px;transform:scaleX(0.4362);text-shadow:-1.93px 0 0 #0433a1,1.93px 0 0 #0433a1,-0.97px 0 0 #0433a1,0.97px 0 0 #0433a1;letter-spacing:3.86px;-webkit-text-stroke:0.70px #0433a1">Витамин B2</div>
<div class="t r" style="left:1166.20px;top:1453.00px;font-size:42.00px;transform:scaleX(0.4728);text-shadow:-1.60px 0 0 #0433a1,1.60px 0 0 #0433a1,-0.80px 0 0 #0433a1,0.80px 0 0 #0433a1;letter-spacing:3.21px;-webkit-text-stroke:0.70px #0433a1">мг</div>
<div class="t r" style="left:1582.17px;top:1453.00px;font-size:42.00px;transform:scaleX(0.4242);text-shadow:-2.37px 0 0 #0433a1,2.37px 0 0 #0433a1,-1.19px 0 0 #0433a1,1.19px 0 0 #0433a1;letter-spacing:4.75px;-webkit-text-stroke:1.00px #0433a1">1,2</div>
<div class="t r" style="left:2036.39px;top:1453.00px;font-size:42.00px;transform:scaleX(0.4270);text-shadow:-2.34px 0 0 #0433a1,2.34px 0 0 #0433a1,-1.17px 0 0 #0433a1,1.17px 0 0 #0433a1;letter-spacing:4.68px;-webkit-text-stroke:1.00px #0433a1">0,16</div>
<div class="t r" style="left:278.80px;top:1502.00px;font-size:42.00px;transform:scaleX(0.4352);text-shadow:-1.94px 0 0 #0433a1,1.94px 0 0 #0433a1,-0.97px 0 0 #0433a1,0.97px 0 0 #0433a1;letter-spacing:3.88px;-webkit-text-stroke:0.70px #0433a1">Витамин PP</div>
<div class="t r" style="left:1166.20px;top:1497.00px;font-size:42.00px;transform:scaleX(0.4728);text-shadow:-1.60px 0 0 #0433a1,1.60px 0 0 #0433a1,-0.80px 0 0 #0433a1,0.80px 0 0 #0433a1;letter-spacing:3.21px;-webkit-text-stroke:0.70px #0433a1">мг</div>
<div class="t r" style="left:1582.41px;top:1497.00px;font-size:42.00px;transform:scaleX(0.4252);text-shadow:-2.36px 0 0 #0433a1,2.36px 0 0 #0433a1,-1.18px 0 0 #0433a1,1.18px 0 0 #0433a1;letter-spacing:4.73px;-webkit-text-stroke:1.00px #0433a1">5,3</div>
<div class="t r" style="left:2036.39px;top:1497.00px;font-size:42.00px;transform:scaleX(0.4270);text-shadow:-2.34px 0 0 #0433a1,2.34px 0 0 #0433a1,-1.17px 0 0 #0433a1,1.17px 0 0 #0433a1;letter-spacing:4.68px;-webkit-text-stroke:1.00px #0433a1">0,73</div>
<div class="t r" style="left:278.79px;top:1547.00px;font-size:42.00px;transform:scaleX(0.4372);text-shadow:-1.92px 0 0 #0433a1,1.92px 0 0 #0433a1,-0.96px 0 0 #0433a1,0.96px 0 0 #0433a1;letter-spacing:3.84px;-webkit-text-stroke:0.70px #0433a1">Витамин B6</div>
<div class="t r" style="left:1166.20px;top:1542.00px;font-size:42.00px;transform:scaleX(0.4728);text-shadow:-1.60px 0 0 #0433a1,1.60px 0 0 #0433a1,-0.80px 0 0 #0433a1,0.80px 0 0 #0433a1;letter-spacing:3.21px;-webkit-text-stroke:0.70px #0433a1">мг</div>
<div class="t r" style="left:1576.39px;top:1542.00px;font-size:42.00px;transform:scaleX(0.4270);text-shadow:-2.34px 0 0 #0433a1,2.34px 0 0 #0433a1,-1.17px 0 0 #0433a1,1.17px 0 0 #0433a1;letter-spacing:4.68px;-webkit-text-stroke:1.00px #0433a1">0,36</div>
<div class="t r" style="left:2036.29px;top:1542.00px;font-size:42.00px;transform:scaleX(0.4295);text-shadow:-2.31px 0 0 #0433a1,2.31px 0 0 #0433a1,-1.16px 0 0 #0433a1,1.16px 0 0 #0433a1;letter-spacing:4.63px;-webkit-text-stroke:1.00px #0433a1">0,05</div>
<div class="t r" style="left:279.26px;top:1592.00px;font-size:42.00px;transform:scaleX(0.4308);text-shadow:-1.98px 0 0 #0433a1,1.98px 0 0 #0433a1,-0.99px 0 0 #0433a1,0.99px 0 0 #0433a1;letter-spacing:3.97px;-webkit-text-stroke:0.70px #0433a1">Фолиевая кислота</div>
<div class="t r" style="left:1160.37px;top:1587.00px;font-size:42.00px;transform:scaleX(0.4993);text-shadow:-1.40px 0 0 #0433a1,1.40px 0 0 #0433a1,-0.70px 0 0 #0433a1,0.70px 0 0 #0433a1;letter-spacing:2.79px;-webkit-text-stroke:0.70px #0433a1">мкг</div>
<div class="t r" style="left:1585.21px;top:1587.00px;font-size:42.00px;transform:scaleX(0.4591);text-shadow:-2.01px 0 0 #0433a1,2.01px 0 0 #0433a1,-1.00px 0 0 #0433a1,1.00px 0 0 #0433a1;letter-spacing:4.01px;-webkit-text-stroke:1.00px #0433a1">81</div>
<div class="t r" style="left:2029.75px;top:1587.00px;font-size:42.00px;transform:scaleX(0.4342);text-shadow:-2.26px 0 0 #0433a1,2.26px 0 0 #0433a1,-1.13px 0 0 #0433a1,1.13px 0 0 #0433a1;letter-spacing:4.53px;-webkit-text-stroke:1.00px #0433a1">11,08</div>
<div class="t r" style="left:278.89px;top:1637.00px;font-size:42.00px;transform:scaleX(0.4211);text-shadow:-2.08px 0 0 #0433a1,2.08px 0 0 #0433a1,-1.04px 0 0 #0433a1,1.04px 0 0 #0433a1;letter-spacing:4.17px;-webkit-text-stroke:0.70px #0433a1">Пантотеновая кислота</div>
<div class="t r" style="left:1166.20px;top:1632.00px;font-size:42.00px;transform:scaleX(0.4728);text-shadow:-1.60px 0 0 #0433a1,1.60px 0 0 #0433a1,-0.80px 0 0 #0433a1,0.80px 0 0 #0433a1;letter-spacing:3.21px;-webkit-text-stroke:0.70px #0433a1">мг</div>
<div class="t r" style="left:1582.41px;top:1632.00px;font-size:42.00px;transform:scaleX(0.4252);text-shadow:-2.36px 0 0 #0433a1,2.36px 0 0 #0433a1,-1.18px 0 0 #0433a1,1.18px 0 0 #0433a1;letter-spacing:4.73px;-webkit-text-stroke:1.00px #0433a1">5,3</div>
<div class="t r" style="left:2036.39px;top:1632.00px;font-size:42.00px;transform:scaleX(0.4270);text-shadow:-2.34px 0 0 #0433a1,2.34px 0 0 #0433a1,-1.17px 0 0 #0433a1,1.17px 0 0 #0433a1;letter-spacing:4.68px;-webkit-text-stroke:1.00px #0433a1">0,73</div>
<div class="t r" style="left:278.80px;top:1681.00px;font-size:42.00px;transform:scaleX(0.4353);text-shadow:-1.94px 0 0 #0433a1,1.94px 0 0 #0433a1,-0.97px 0 0 #0433a1,0.97px 0 0 #0433a1;letter-spacing:3.88px;-webkit-text-stroke:0.70px #0433a1">Витамин B12</div>
<div class="t r" style="left:1160.37px;top:1677.00px;font-size:42.00px;transform:scaleX(0.4993);text-shadow:-1.40px 0 0 #0433a1,1.40px 0 0 #0433a1,-0.70px 0 0 #0433a1,0.70px 0 0 #0433a1;letter-spacing:2.79px;-webkit-text-stroke:0.70px #0433a1">мкг</div>
<div class="t r" style="left:1575.86px;top:1677.00px;font-size:42.00px;transform:scaleX(0.4321);text-shadow:-2.29px 0 0 #0433a1,2.29px 0 0 #0433a1,-1.14px 0 0 #0433a1,1.14px 0 0 #0433a1;letter-spacing:4.57px;-webkit-text-stroke:1.00px #0433a1">1,45</div>
<div class="t r" style="left:2042.59px;top:1677.00px;font-size:42.00px;transform:scaleX(0.4207);text-shadow:-2.41px 0 0 #0433a1,2.41px 0 0 #0433a1,-1.21px 0 0 #0433a1,1.21px 0 0 #0433a1;letter-spacing:4.83px;-webkit-text-stroke:1.00px #0433a1">0,2</div>
<div class="t r" style="left:278.78px;top:1726.00px;font-size:42.00px;transform:scaleX(0.4387);text-shadow:-1.91px 0 0 #0433a1,1.91px 0 0 #0433a1,-0.95px 0 0 #0433a1,0.95px 0 0 #0433a1;letter-spacing:3.81px;-webkit-text-stroke:0.70px #0433a1">Биотин</div>
<div class="t r" style="left:1160.37px;top:1721.00px;font-size:42.00px;transform:scaleX(0.4993);text-shadow:-1.40px 0 0 #0433a1,1.40px 0 0 #0433a1,-0.70px 0 0 #0433a1,0.70px 0 0 #0433a1;letter-spacing:2.79px;-webkit-text-stroke:0.70px #0433a1">мкг</div>
<div class="t r" style="left:1575.86px;top:1721.00px;font-size:42.00px;transform:scaleX(0.4321);text-shadow:-2.29px 0 0 #0433a1,2.29px 0 0 #0433a1,-1.14px 0 0 #0433a1,1.14px 0 0 #0433a1;letter-spacing:4.57px;-webkit-text-stroke:1.00px #0433a1">13,5</div>
<div class="t r" style="left:2035.86px;top:1721.00px;font-size:42.00px;transform:scaleX(0.4321);text-shadow:-2.29px 0 0 #0433a1,2.29px 0 0 #0433a1,-1.14px 0 0 #0433a1,1.14px 0 0 #0433a1;letter-spacing:4.57px;-webkit-text-stroke:1.00px #0433a1">1,85</div>
<div class="t r" style="left:279.92px;top:1771.00px;font-size:42.00px;transform:scaleX(0.4238);text-shadow:-2.06px 0 0 #0433a1,2.06px 0 0 #0433a1,-1.03px 0 0 #0433a1,1.03px 0 0 #0433a1;letter-spacing:4.11px;-webkit-text-stroke:0.70px #0433a1">Холин</div>
<div class="t r" style="left:1166.20px;top:1766.00px;font-size:42.00px;transform:scaleX(0.4728);text-shadow:-1.60px 0 0 #0433a1,1.60px 0 0 #0433a1,-0.80px 0 0 #0433a1,0.80px 0 0 #0433a1;letter-spacing:3.21px;-webkit-text-stroke:0.70px #0433a1">мг</div>
<div class="t r" style="left:1585.28px;top:1766.00px;font-size:42.00px;transform:scaleX(0.4540);text-shadow:-2.06px 0 0 #0433a1,2.06px 0 0 #0433a1,-1.03px 0 0 #0433a1,1.03px 0 0 #0433a1;letter-spacing:4.11px;-webkit-text-stroke:1.00px #0433a1">55</div>
<div class="t r" style="left:2036.24px;top:1766.00px;font-size:42.00px;transform:scaleX(0.4299);text-shadow:-2.31px 0 0 #0433a1,2.31px 0 0 #0433a1,-1.15px 0 0 #0433a1,1.15px 0 0 #0433a1;letter-spacing:4.62px;-webkit-text-stroke:1.00px #0433a1">7,52</div>
<div class="t r" style="left:278.73px;top:1816.00px;font-size:42.00px;transform:scaleX(0.4483);text-shadow:-1.82px 0 0 #0433a1,1.82px 0 0 #0433a1,-0.91px 0 0 #0433a1,0.91px 0 0 #0433a1;letter-spacing:3.63px;-webkit-text-stroke:0.70px #0433a1">Инозит</div>
<div class="t r" style="left:1166.20px;top:1811.00px;font-size:42.00px;transform:scaleX(0.4728);text-shadow:-1.60px 0 0 #0433a1,1.60px 0 0 #0433a1,-0.80px 0 0 #0433a1,0.80px 0 0 #0433a1;letter-spacing:3.21px;-webkit-text-stroke:0.70px #0433a1">мг</div>
<div class="t r" style="left:1584.94px;top:1811.00px;font-size:42.00px;transform:scaleX(0.4651);text-shadow:-1.95px 0 0 #0433a1,1.95px 0 0 #0433a1,-0.97px 0 0 #0433a1,0.97px 0 0 #0433a1;letter-spacing:3.90px;-webkit-text-stroke:1.00px #0433a1">34</div>
<div class="t r" style="left:2036.30px;top:1811.00px;font-size:42.00px;transform:scaleX(0.4336);text-shadow:-2.27px 0 0 #0433a1,2.27px 0 0 #0433a1,-1.13px 0 0 #0433a1,1.13px 0 0 #0433a1;letter-spacing:4.54px;-webkit-text-stroke:1.00px #0433a1">4,65</div>
<div class="t r" style="left:280.07px;top:1861.00px;font-size:42.00px;transform:scaleX(0.4267);text-shadow:-2.03px 0 0 #0433a1,2.03px 0 0 #0433a1,-1.01px 0 0 #0433a1,1.01px 0 0 #0433a1;letter-spacing:4.05px;-webkit-text-stroke:0.70px #0433a1">Железо</div>
<div class="t r" style="left:1166.20px;top:1856.00px;font-size:42.00px;transform:scaleX(0.4728);text-shadow:-1.60px 0 0 #0433a1,1.60px 0 0 #0433a1,-0.80px 0 0 #0433a1,0.80px 0 0 #0433a1;letter-spacing:3.21px;-webkit-text-stroke:0.70px #0433a1">мг</div>
<div class="t r" style="left:1582.39px;top:1856.00px;font-size:42.00px;transform:scaleX(0.4241);text-shadow:-2.37px 0 0 #0433a1,2.37px 0 0 #0433a1,-1.19px 0 0 #0433a1,1.19px 0 0 #0433a1;letter-spacing:4.75px;-webkit-text-stroke:1.00px #0433a1">7,2</div>
<div class="t r" style="left:2050.96px;top:1856.00px;font-size:42.00px;transform:scaleX(0.4764);text-shadow:-1.84px 0 0 #0433a1,1.84px 0 0 #0433a1,-0.92px 0 0 #0433a1,0.92px 0 0 #0433a1;letter-spacing:3.69px;-webkit-text-stroke:1.00px #0433a1">1</div>
<div class="t r" style="left:278.70px;top:1905.00px;font-size:42.00px;transform:scaleX(0.4528);text-shadow:-1.78px 0 0 #0433a1,1.78px 0 0 #0433a1,-0.89px 0 0 #0433a1,0.89px 0 0 #0433a1;letter-spacing:3.55px;-webkit-text-stroke:0.70px #0433a1">Йод</div>
<div class="t r" style="left:1160.37px;top:1901.00px;font-size:42.00px;transform:scaleX(0.4993);text-shadow:-1.40px 0 0 #0433a1,1.40px 0 0 #0433a1,-0.70px 0 0 #0433a1,0.70px 0 0 #0433a1;letter-spacing:2.79px;-webkit-text-stroke:0.70px #0433a1">мкг</div>
<div class="t r" style="left:1585.39px;top:1901.00px;font-size:42.00px;transform:scaleX(0.4422);text-shadow:-2.18px 0 0 #0433a1,2.18px 0 0 #0433a1,-1.09px 0 0 #0433a1,1.09px 0 0 #0433a1;letter-spacing:4.35px;-webkit-text-stroke:1.00px #0433a1">70</div>
<div class="t r" style="left:2036.27px;top:1901.00px;font-size:42.00px;transform:scaleX(0.4302);text-shadow:-2.31px 0 0 #0433a1,2.31px 0 0 #0433a1,-1.15px 0 0 #0433a1,1.15px 0 0 #0433a1;letter-spacing:4.61px;-webkit-text-stroke:1.00px #0433a1">9,57</div>
<div class="t r" style="left:278.69px;top:1950.00px;font-size:42.00px;transform:scaleX(0.4548);text-shadow:-1.76px 0 0 #0433a1,1.76px 0 0 #0433a1,-0.88px 0 0 #0433a1,0.88px 0 0 #0433a1;letter-spacing:3.51px;-webkit-text-stroke:0.70px #0433a1">Медь</div>
<div class="t r" style="left:1166.20px;top:1945.00px;font-size:42.00px;transform:scaleX(0.4728);text-shadow:-1.60px 0 0 #0433a1,1.60px 0 0 #0433a1,-0.80px 0 0 #0433a1,0.80px 0 0 #0433a1;letter-spacing:3.21px;-webkit-text-stroke:0.70px #0433a1">мг</div>
<div class="t r" style="left:1576.48px;top:1945.00px;font-size:42.00px;transform:scaleX(0.4260);text-shadow:-2.35px 0 0 #0433a1,2.35px 0 0 #0433a1,-1.18px 0 0 #0433a1,1.18px 0 0 #0433a1;letter-spacing:4.71px;-webkit-text-stroke:1.00px #0433a1">0,37</div>
<div class="t r" style="left:2036.29px;top:1945.00px;font-size:42.00px;transform:scaleX(0.4295);text-shadow:-2.31px 0 0 #0433a1,2.31px 0 0 #0433a1,-1.16px 0 0 #0433a1,1.16px 0 0 #0433a1;letter-spacing:4.63px;-webkit-text-stroke:1.00px #0433a1">0,05</div>
<div class="t r" style="left:278.64px;top:1995.00px;font-size:42.00px;transform:scaleX(0.4648);text-shadow:-1.67px 0 0 #0433a1,1.67px 0 0 #0433a1,-0.83px 0 0 #0433a1,0.83px 0 0 #0433a1;letter-spacing:3.34px;-webkit-text-stroke:0.70px #0433a1">Цинк</div>
<div class="t r" style="left:1166.20px;top:1990.00px;font-size:42.00px;transform:scaleX(0.4728);text-shadow:-1.60px 0 0 #0433a1,1.60px 0 0 #0433a1,-0.80px 0 0 #0433a1,0.80px 0 0 #0433a1;letter-spacing:3.21px;-webkit-text-stroke:0.70px #0433a1">мг</div>
<div class="t r" style="left:1582.18px;top:1990.00px;font-size:42.00px;transform:scaleX(0.4359);text-shadow:-2.24px 0 0 #0433a1,2.24px 0 0 #0433a1,-1.12px 0 0 #0433a1,1.12px 0 0 #0433a1;letter-spacing:4.49px;-webkit-text-stroke:1.00px #0433a1">4,4</div>
<div class="t r" style="left:2042.55px;top:1990.00px;font-size:42.00px;transform:scaleX(0.4200);text-shadow:-2.42px 0 0 #0433a1,2.42px 0 0 #0433a1,-1.21px 0 0 #0433a1,1.21px 0 0 #0433a1;letter-spacing:4.84px;-webkit-text-stroke:1.00px #0433a1">0,6</div>
<div class="t r" style="left:278.75px;top:2040.00px;font-size:42.00px;transform:scaleX(0.4437);text-shadow:-1.86px 0 0 #0433a1,1.86px 0 0 #0433a1,-0.93px 0 0 #0433a1,0.93px 0 0 #0433a1;letter-spacing:3.72px;-webkit-text-stroke:0.70px #0433a1">Марганец</div>
<div class="t r" style="left:1160.37px;top:2035.00px;font-size:42.00px;transform:scaleX(0.4993);text-shadow:-1.40px 0 0 #0433a1,1.40px 0 0 #0433a1,-0.70px 0 0 #0433a1,0.70px 0 0 #0433a1;letter-spacing:2.79px;-webkit-text-stroke:0.70px #0433a1">мкг</div>
<div class="t r" style="left:1578.84px;top:2035.00px;font-size:42.00px;transform:scaleX(0.4495);text-shadow:-2.10px 0 0 #0433a1,2.10px 0 0 #0433a1,-1.05px 0 0 #0433a1,1.05px 0 0 #0433a1;letter-spacing:4.20px;-webkit-text-stroke:1.00px #0433a1">105</div>
<div class="t r" style="left:2029.82px;top:2035.00px;font-size:42.00px;transform:scaleX(0.4327);text-shadow:-2.28px 0 0 #0433a1,2.28px 0 0 #0433a1,-1.14px 0 0 #0433a1,1.14px 0 0 #0433a1;letter-spacing:4.56px;-webkit-text-stroke:1.00px #0433a1">14,36</div>
<div class="t r" style="left:279.49px;top:2085.00px;font-size:42.00px;transform:scaleX(0.4060);text-shadow:-2.25px 0 0 #0433a1,2.25px 0 0 #0433a1,-1.12px 0 0 #0433a1,1.12px 0 0 #0433a1;letter-spacing:4.49px;-webkit-text-stroke:0.70px #0433a1">Селен</div>
<div class="t r" style="left:1160.37px;top:2080.00px;font-size:42.00px;transform:scaleX(0.4993);text-shadow:-1.40px 0 0 #0433a1,1.40px 0 0 #0433a1,-0.70px 0 0 #0433a1,0.70px 0 0 #0433a1;letter-spacing:2.79px;-webkit-text-stroke:0.70px #0433a1">мкг</div>
<div class="t r" style="left:1585.16px;top:2080.00px;font-size:42.00px;transform:scaleX(0.4473);text-shadow:-2.12px 0 0 #0433a1,2.12px 0 0 #0433a1,-1.06px 0 0 #0433a1,1.06px 0 0 #0433a1;letter-spacing:4.25px;-webkit-text-stroke:1.00px #0433a1">17</div>
<div class="t r" style="left:2042.26px;top:2080.00px;font-size:42.00px;transform:scaleX(0.4276);text-shadow:-2.34px 0 0 #0433a1,2.34px 0 0 #0433a1,-1.17px 0 0 #0433a1,1.17px 0 0 #0433a1;letter-spacing:4.67px;-webkit-text-stroke:1.00px #0433a1">2,3</div>
<div class="t r" style="left:279.52px;top:2129.00px;font-size:42.00px;transform:scaleX(0.4128);text-shadow:-2.17px 0 0 #0433a1,2.17px 0 0 #0433a1,-1.09px 0 0 #0433a1,1.09px 0 0 #0433a1;letter-spacing:4.34px;-webkit-text-stroke:0.70px #0433a1">Осмоляльность</div>
<div class="t r" style="left:1134.93px;top:2125.00px;font-size:42.00px;transform:scaleX(0.4859);text-shadow:-1.50px 0 0 #0433a1,1.50px 0 0 #0433a1,-0.75px 0 0 #0433a1,0.75px 0 0 #0433a1;letter-spacing:2.99px;-webkit-text-stroke:0.70px #0433a1">мОсм/кг</div>
<div class="t r" style="left:278.77px;top:2174.00px;font-size:42.00px;transform:scaleX(0.4396);text-shadow:-1.90px 0 0 #0433a1,1.90px 0 0 #0433a1,-0.95px 0 0 #0433a1,0.95px 0 0 #0433a1;letter-spacing:3.80px;-webkit-text-stroke:0.70px #0433a1">Культура бифидобактерий B. lactis</div>
<div class="t r" style="left:1147.29px;top:2169.00px;font-size:42.00px;transform:scaleX(0.4820);text-shadow:-1.53px 0 0 #0433a1,1.53px 0 0 #0433a1,-0.76px 0 0 #0433a1,0.76px 0 0 #0433a1;letter-spacing:3.06px;-webkit-text-stroke:0.70px #0433a1">КОЕ/г</div>
<div class="t r" style="left:1815.91px;top:2134.00px;font-size:42.00px;transform:scaleX(0.4285);text-shadow:-2.33px 0 0 #0433a1,2.33px 0 0 #0433a1,-1.16px 0 0 #0433a1,1.16px 0 0 #0433a1;letter-spacing:4.65px;-webkit-text-stroke:1.00px #0433a1">264</div>
<div class="t r" style="left:1769.30px;top:2169.00px;font-size:42.00px;transform:scaleX(0.4199);text-shadow:-2.10px 0 0 #0433a1,2.10px 0 0 #0433a1,-1.05px 0 0 #0433a1,1.05px 0 0 #0433a1;letter-spacing:4.19px;-webkit-text-stroke:0.70px #0433a1">не менее 10</div>
<div class="t r" style="left:1889.04px;top:2170.00px;font-size:23.50px;transform:scaleX(0.4774);text-shadow:-0.72px 0 0 #0433a1,0.72px 0 0 #0433a1,-0.36px 0 0 #0433a1,0.36px 0 0 #0433a1;letter-spacing:1.44px;-webkit-text-stroke:0.70px #0433a1">6</div>
<div class="dot" style="left:633.6px;top:2191.6px;width:7.2px;height:7.2px"></div>
</body></html>
